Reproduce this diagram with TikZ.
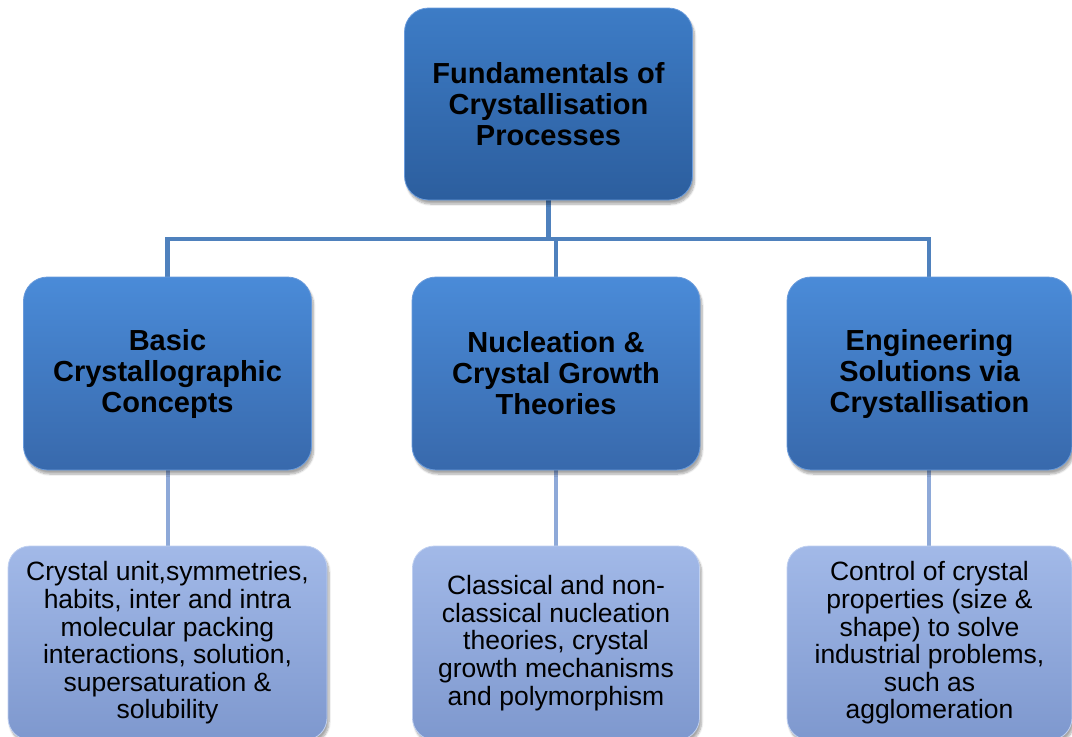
\documentclass[tikz,border=0pt]{standalone}
\usepackage{fontspec}
\setmainfont{Liberation Sans}
\usetikzlibrary{shadows.blur}
\definecolor{topA}{HTML}{3D7CC6}
\definecolor{topB}{HTML}{2C5E9E}
\definecolor{midA}{HTML}{4A8BD8}
\definecolor{midB}{HTML}{3869AC}
\definecolor{lowA}{HTML}{A2B9E8}
\definecolor{lowB}{HTML}{7E98CE}
\definecolor{edgeD}{HTML}{6A9BDB}
\definecolor{edgeL}{HTML}{C0D0F0}
\definecolor{busC}{HTML}{4F81BD}
\definecolor{legC}{HTML}{8EA9D8}
\tikzset{
  headbox/.style={rounded corners=24pt, draw=edgeD, line width=0.8pt,
    top color=topA, bottom color=topB, minimum width=288pt, minimum height=192pt,
    align=center, font=\fontsize{29}{31}\selectfont\bfseries, text=black,
    blur shadow={shadow xshift=2pt, shadow yshift=-4pt, shadow blur steps=8, shadow opacity=35}},
  themebox/.style={headbox, top color=midA, bottom color=midB, minimum height=193pt},
  detailbox/.style={rounded corners=22pt, draw=edgeL, line width=0.8pt,
    top color=lowA, bottom color=lowB, minimum width=287pt, minimum height=194pt,
    align=center, font=\fontsize{26.5}{27.6}\selectfont, text=black,
    blur shadow={shadow xshift=2pt, shadow yshift=-4pt, shadow blur steps=8, shadow opacity=35}},
  bus/.style={draw=busC, line width=4.5pt},
  leg/.style={draw=legC, line width=4pt}
}
\begin{document}
\begin{tikzpicture}[x=1pt,y=-1pt]
\useasboundingbox (0,0) rectangle (1072,737);
\clip (0,0) rectangle (1072,737);

% connectors are drawn first so the boxes sit on top of them
\coordinate (bus) at (548.5,239);
\coordinate (topS) at (548.5,195);
\coordinate (lN) at (167.5,280);
\coordinate (mN) at (556,280);
\coordinate (rN) at (929,280);
\draw[bus] (topS) -- (bus);
\draw[bus] (lN) -- (lN |- bus) -- (rN |- bus) -- (rN);
\draw[bus] (mN) -- (mN |- bus);
\draw[leg] (167.5,465) -- (167.5,550);
\draw[leg] (556,465) -- (556,550);
\draw[leg] (929,465) -- (929,550);

% top level
\node[headbox] (top) at (548.5,104) {Fundamentals of\\Crystallisation\\Processes};

% second level
\node[themebox] (mL) at (167.5,373.5) {Basic\\Crystallographic\\Concepts};
\node[themebox] (mM) at (556,373.5) {Nucleation \&\\Crystal Growth\\Theories};
\node[themebox, minimum width=285pt] (mR) at (929.5,373.5) {Engineering\\Solutions via\\Crystallisation};

% third level
\node[detailbox, minimum width=319pt] (dL) at (167.5,643) {Crystal unit,symmetries,\\habits, inter and intra\\molecular packing\\interactions, solution,\\supersaturation \&\\solubility};
\node[detailbox] (dM) at (556,643) {Classical and non-\\classical nucleation\\theories, crystal\\growth mechanisms\\and polymorphism};
\node[detailbox, minimum width=285pt] (dR) at (929.5,643) {Control of crystal\\properties (size \&\\shape) to solve\\industrial problems,\\such as\\agglomeration};
\end{tikzpicture}
\end{document}
